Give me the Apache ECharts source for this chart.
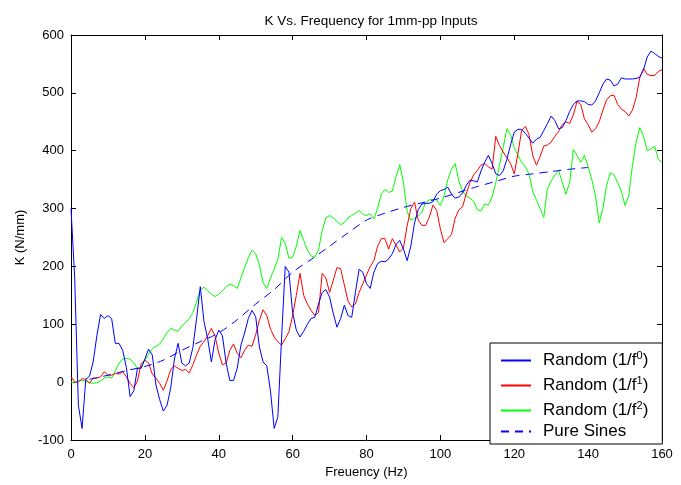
<!DOCTYPE html>
<html>
<head>
<meta charset="utf-8">
<script src="https://cdn.jsdelivr.net/npm/echarts@6/dist/echarts.min.js"></script>
<style>html,body{margin:0;padding:0;background:#fff;}#c{width:681px;height:485px;}</style>
</head>
<body>
<div id="c"></div>
<script>
const freq = [0,1,2,3,4,5,6,7,8,9,10,11,12,13,14,15,16,17,18,19,20,21,22,23,24,25,26,27,28,29,30,31,32,33,34,35,36,37,38,39,40,41,42,43,44,45,46,47,48,49,50,51,52,53,54,55,56,57,58,59,60,61,62,63,64,65,66,67,68,69,70,71,72,73,74,75,76,77,78,79,80,81,82,83,84,85,86,87,88,89,90,91,92,93,94,95,96,97,98,99,100,101,102,103,104,105,106,107,108,109,110,111,112,113,114,115,116,117,118,119,120,121,122,123,124,125,126,127,128,129,130,131,132,133,134,135,136,137,138,139,140,141,142,143,144,145,146,147,148,149,150,151,152,153,154,155,156,157,158,159,160];

const randomF0 = [300,180,-40,-80,5,10,35,80,117,110,
115,110,67,67,55,25,-25,-15,24,24,
40,57,47,-5,-30,-50,-40,-10,40,67,
33,28,33,60,110,165,105,75,35,73,
90,80,33,3,3,24,64,85,110,124,
113,61,35,28,-15,-80,-60,75,200,190,
120,90,78,88,100,110,112,135,155,160,
147,119,95,110,133,115,112,155,195,190,
170,162,190,205,209,208,213,222,238,245,
230,210,235,275,298,308,309,309,312,325,
331,333,337,325,318,320,327,340,349,348,
346,365,380,392,378,360,357,365,385,410,
432,437,437,430,422,413,420,423,435,447,
460,452,438,440,452,468,480,486,486,485,
480,479,486,500,515,524,522,512,515,526,
524,524,524,525,527,540,562,572,568,563,560];

const randomF1 = [10,0,0,6,5,-2,7,7,9,18,
12,12,15,14,18,9,-2,-10,2,32,
38,33,14,7,-2,-14,2,22,28,24,
20,22,16,30,47,62,70,80,93,80,
50,30,33,55,66,50,42,55,64,62,
82,107,125,115,92,78,70,64,75,87,
115,150,188,150,135,124,115,120,188,180,
155,176,198,196,168,140,130,135,155,170,
185,200,210,235,248,248,230,248,237,225,
232,270,300,311,280,271,271,285,306,297,
265,241,248,255,283,298,303,325,345,358,
366,375,378,372,368,425,409,398,388,378,
360,395,435,442,428,392,375,390,408,410,
415,425,433,445,450,447,462,485,480,455,
445,432,438,450,470,488,495,496,480,472,
468,460,470,492,527,542,532,530,530,537,540];

const randomF2 = [0,-1,3,3,2,-1,-2,-1,2,7,
9,7,19,33,40,41,40,33,24,25,
38,48,58,62,66,75,86,93,90,88,
97,103,110,120,138,160,164,158,152,148,
152,158,165,169,167,162,180,198,215,228,
222,203,172,162,180,195,212,250,240,214,
216,235,262,245,228,218,216,228,262,284,
288,284,278,272,276,284,288,292,297,290,
288,291,282,300,325,333,328,330,355,376,
345,295,280,283,288,294,310,315,316,315,
305,322,350,368,378,348,330,322,318,313,
298,296,308,306,320,345,375,405,438,428,
405,392,380,372,360,330,315,300,285,335,
348,358,366,345,325,345,402,392,380,392,
372,350,322,275,300,340,362,358,345,330,
305,322,375,415,440,425,400,403,408,385,380];

const sinesFreq = [5,10,15,20,25,30,35,40,45,50,55,60,65,70,75,80,85,90,95,100,105,110,115,120,125,130,135,140];
const pureSines = [5,12,20,27,38,55,70,85,108,135,160,190,212,235,258,280,292,302,310,318,328,338,347,356,360,364,368,371];

const xTicks = [0,20,40,60,80,100,120,140,160];
const yTicks = [-100,0,100,200,300,400,500,600];

const seriesNames = ['Random (1/f0)','Random (1/f1)','Random (1/f2)','Pure Sines'];
const legendLabels = {
  'Random (1/f0)': 'Random (1/f{sup|0})',
  'Random (1/f1)': 'Random (1/f{sup|1})',
  'Random (1/f2)': 'Random (1/f{sup|2})',
  'Pure Sines': 'Pure Sines'
};

function pairs(xs, ys){ return ys.map((v,i)=>[xs[i], v]); }

const FONT = 'Liberation Sans, Arial, sans-serif';
const chart = echarts.init(document.getElementById('c'), null, {renderer:'canvas'});
const axisCommon = {
  axisLine:{show:true,onZero:false,lineStyle:{color:'#000',width:1}},
  axisTick:{show:true,inside:true,length:5,lineStyle:{color:'#000'}},
  splitLine:{show:false}
};
const supRich = {sup:{fontFamily:FONT,fontSize:11,color:'#000',padding:[0,0,9,0]}};
chart.setOption({
  animation:false,
  backgroundColor:'#fff',
  title:{text:'K Vs. Frequency for 1mm-pp Inputs',left:366,top:9,textAlign:'center',
    textStyle:{fontFamily:FONT,fontSize:13.5,fontWeight:'normal',color:'#000'}},
  grid:{left:71,right:19,top:35,bottom:45},
  legend:{
    orient:'vertical', left:490, top:343,
    data:[
      {name:seriesNames[0], textStyle:{lineHeight:25}},
      {name:seriesNames[1], textStyle:{lineHeight:25}},
      {name:seriesNames[2], textStyle:{lineHeight:25}},
      {name:seriesNames[3], textStyle:{lineHeight:12}}
    ],
    itemWidth:30, itemHeight:10, itemGap:0,
    padding:[5,14,4,10],
    backgroundColor:'#fff', borderColor:'#000', borderWidth:1, borderRadius:0,
    itemStyle:{opacity:0},
    formatter: n => legendLabels[n],
    textStyle:{fontFamily:FONT,fontSize:17,color:'#000',padding:[0,0,0,7],rich:supRich}
  },
  xAxis:[
    Object.assign({type:'value',min:0,max:160,interval:20,position:'bottom',
      name:'Freuency (Hz)',nameLocation:'middle',nameGap:24,
      nameTextStyle:{fontFamily:FONT,fontSize:13,color:'#000'},
      axisLabel:{fontFamily:FONT,fontSize:13,color:'#000',margin:8,
        customValues: xTicks}}, axisCommon),
    Object.assign({type:'value',min:0,max:160,interval:20,position:'top',
      axisLabel:{show:false}}, axisCommon)
  ],
  yAxis:[
    Object.assign({type:'value',min:-100,max:600,interval:100,position:'left',
      name:'K (N/mm)',nameLocation:'middle',nameGap:40,
      nameTextStyle:{fontFamily:FONT,fontSize:13,color:'#000'},
      axisLabel:{fontFamily:FONT,fontSize:13,color:'#000',margin:7}}, axisCommon),
    Object.assign({type:'value',min:-100,max:600,interval:100,position:'right',
      axisLabel:{show:false}}, axisCommon)
  ],
  series:[
    {name:seriesNames[0],type:'line',data:pairs(freq,randomF0),showSymbol:false,symbol:'none',
      lineStyle:{color:'#0000ff',width:1},itemStyle:{color:'#0000ff'},z:5},
    {name:seriesNames[1],type:'line',data:pairs(freq,randomF1),showSymbol:false,symbol:'none',
      lineStyle:{color:'#ff0000',width:1},itemStyle:{color:'#ff0000'},z:4},
    {name:seriesNames[2],type:'line',data:pairs(freq,randomF2),showSymbol:false,symbol:'none',
      lineStyle:{color:'#00ff00',width:1},itemStyle:{color:'#00ff00'},z:3},
    {name:seriesNames[3],type:'line',data:pairs(sinesFreq,pureSines),showSymbol:false,symbol:'none',smooth:0.3,
      lineStyle:{color:'#0000ff',width:1,type:[8,6]},itemStyle:{color:'#0000ff'},z:6}
  ]
});
</script>
</body>
</html>
